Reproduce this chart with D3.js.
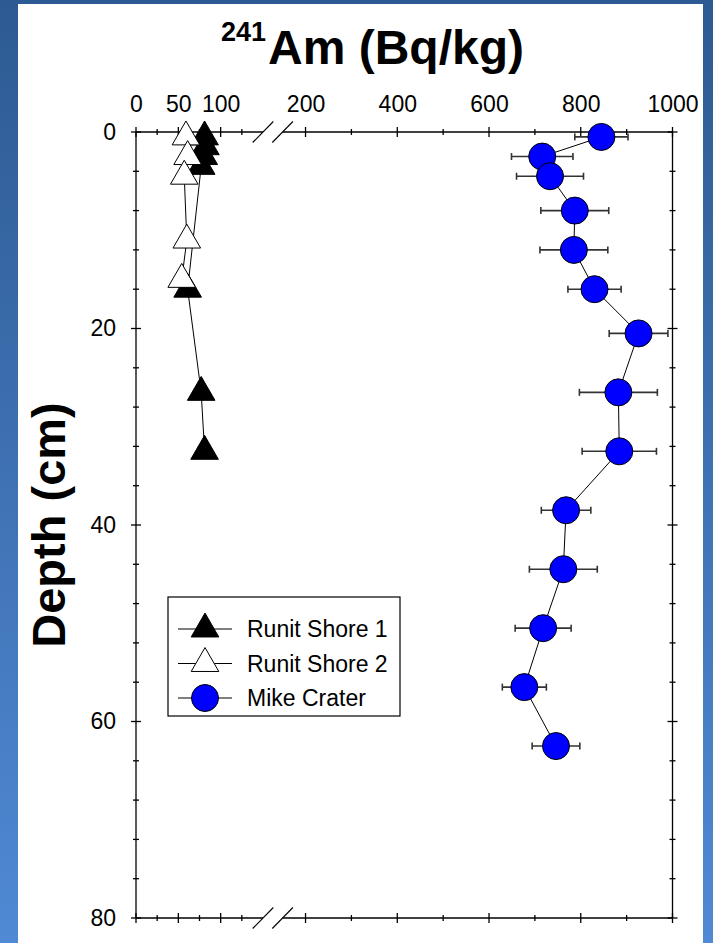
<!DOCTYPE html>
<html>
<head>
<meta charset="utf-8">
<script src="https://cdn.jsdelivr.net/npm/d3@7"></script>
<style>
  body { margin: 0; padding: 0; }
  text { font-family: "Liberation Sans", Arial, sans-serif; fill: #000; }
</style>
</head>
<body>
<div id="chart"></div>
<script>
// Data (depth in cm, 241Am in Bq/kg)
let shore1Depth = [0.5, 1.5, 2.5, 3.5, 16, 26.5, 32.5];
let shore1Am = [81, 82, 80, 77, 61, 77, 81];

let shore2Depth = [0.5, 2.5, 4.5, 11, 15];
let shore2Am = [59, 61, 57, 60, 54];

let mikeDepth = [0.5, 2.5, 4.5, 8, 12, 16, 20.5, 26.5, 32.5, 38.5, 44.5, 50.5, 56.5, 62.5];
let mikeAm = [845, 716, 733, 787, 785, 830, 926, 882, 884, 768, 762, 718, 677, 746];
let mikeErr = [58, 67, 73, 74, 74, 58, 64, 85, 81, 54, 74, 61, 48, 52];

// Tick values (x axis is broken at 150)
let xMajorLow = [0, 50, 100];
let xMinorLow = [25, 75, 125];
let xMajorHigh = [200, 400, 600, 800, 1000];
let xMinorHigh = [300, 500, 700, 900];
let yMajor = [0, 20, 40, 60, 80];
let yMinor = [4, 8, 12, 16, 24, 28, 32, 36, 44, 48, 52, 56, 64, 68, 72, 76];

let legendNames = ["Runit Shore 1", "Runit Shore 2", "Mike Crater"];

let svgWidth = 713;
let svgHeight = 943;

let svg = d3.select("#chart")
    .append("svg")
    .attr("width", svgWidth)
    .attr("height", svgHeight);

// blue slide background with white panel
let grad = svg.append("defs").append("linearGradient")
    .attr("id", "bg")
    .attr("x1", 0).attr("y1", 0).attr("x2", 0).attr("y2", 1);
grad.append("stop").attr("offset", "0%").attr("stop-color", "#2d5a92");
grad.append("stop").attr("offset", "100%").attr("stop-color", "#5089d4");

svg.append("rect")
    .attr("width", svgWidth)
    .attr("height", svgHeight)
    .attr("fill", "url(#bg)");

svg.append("rect")
    .attr("x", 18)
    .attr("y", 4)
    .attr("width", 685)
    .attr("height", svgHeight)
    .attr("fill", "#fff");

// scales
let xLow = d3.scaleLinear().domain([0, 150]).range([136, 263]);
let xHigh = d3.scaleLinear().domain([150, 1000]).range([282.6, 672.5]);
let xPos = v => v < 150 ? xLow(v) : xHigh(v);
let y = d3.scaleLinear().domain([0, 80]).range([132, 918]);

let plotTop = y(0), plotBottom = y(80), plotLeft = xLow(0), plotRight = xHigh(1000);

let frame = svg.append("g")
    .attr("stroke", "#000")
    .attr("stroke-width", 1.3)
    .attr("fill", "none");

// left and right axis lines
frame.append("line").attr("x1", plotLeft).attr("x2", plotLeft).attr("y1", plotTop).attr("y2", plotBottom);
frame.append("line").attr("x1", plotRight).attr("x2", plotRight).attr("y1", plotTop).attr("y2", plotBottom);

// top and bottom axis lines with break marks
[plotTop, plotBottom].forEach(yy => {
    frame.append("line").attr("x1", plotLeft).attr("x2", xLow(150)).attr("y1", yy).attr("y2", yy);
    frame.append("line").attr("x1", xHigh(150)).attr("x2", plotRight).attr("y1", yy).attr("y2", yy);
    [xLow(150), xHigh(150)].forEach(cx => {
        frame.append("line")
            .attr("stroke-width", 1.1)
            .attr("x1", cx - 10.3).attr("y1", yy + 10.5)
            .attr("x2", cx + 10.3).attr("y2", yy - 10.5);
    });
});

// tick marks crossing the axes
let xTicks = []
    .concat(xMajorLow.map(v => ({x: xLow(v), len: 5})))
    .concat(xMinorLow.map(v => ({x: xLow(v), len: 3})))
    .concat(xMajorHigh.map(v => ({x: xHigh(v), len: 5})))
    .concat(xMinorHigh.map(v => ({x: xHigh(v), len: 3})));

[plotTop, plotBottom].forEach(yy => {
    frame.append("g").selectAll("line")
        .data(xTicks)
        .join("line")
        .attr("x1", d => d.x).attr("x2", d => d.x)
        .attr("y1", d => yy - d.len).attr("y2", d => yy + d.len);
});

let yTicks = yMajor.map(v => ({y: y(v), len: 5}))
    .concat(yMinor.map(v => ({y: y(v), len: 3})));

[plotLeft, plotRight].forEach(xx => {
    frame.append("g").selectAll("line")
        .data(yTicks)
        .join("line")
        .attr("y1", d => d.y).attr("y2", d => d.y)
        .attr("x1", d => xx - d.len).attr("x2", d => xx + d.len);
});

// tick labels through d3 axes (tick lines hidden, drawn above)
let labelAxes = [
    {axis: d3.axisTop(xLow).tickValues(xMajorLow), t: `translate(0, ${plotTop})`},
    {axis: d3.axisTop(xHigh).tickValues(xMajorHigh), t: `translate(0, ${plotTop})`},
    {axis: d3.axisLeft(y).tickValues(yMajor), t: `translate(${plotLeft}, 0)`}
];
labelAxes.forEach(a => {
    let g = svg.append("g")
        .attr("transform", a.t)
        .call(a.axis.tickSize(0).tickPadding(20).tickFormat(d3.format("d")));
    g.select(".domain").remove();
    g.selectAll("text")
        .attr("font-family", "Liberation Sans, Arial, sans-serif")
        .attr("font-size", 23)
        .attr("fill", "#000");
});

// title
svg.append("text")
    .attr("x", 266)
    .attr("y", 41)
    .attr("text-anchor", "end")
    .attr("font-weight", "bold")
    .attr("font-size", 27)
    .text("241");
svg.append("text")
    .attr("x", 268)
    .attr("y", 64)
    .attr("font-weight", "bold")
    .attr("font-size", 48)
    .text("Am (Bq/kg)");

// y axis title
svg.append("text")
    .attr("transform", `translate(65, ${y(40)}) rotate(-90)`)
    .attr("text-anchor", "middle")
    .attr("font-weight", "bold")
    .attr("font-size", 47)
    .text("Depth (cm)");

let lineGen = d3.line().x(d => xPos(d.v)).y(d => y(d.d));
let triangle = d3.symbol().type(d3.symbolTriangle).size(330);

let shore1 = shore1Depth.map((d, i) => ({d: d, v: shore1Am[i]}));
let shore2 = shore2Depth.map((d, i) => ({d: d, v: shore2Am[i]}));
let mike = mikeDepth.map((d, i) => ({d: d, v: mikeAm[i], e: mikeErr[i]}));

// Runit Shore 1
svg.append("path")
    .datum(shore1)
    .attr("d", lineGen)
    .attr("fill", "none")
    .attr("stroke", "#000")
    .attr("stroke-width", 1);
svg.append("g").selectAll("path")
    .data(shore1)
    .join("path")
    .attr("transform", d => `translate(${xPos(d.v)}, ${y(d.d)})`)
    .attr("d", triangle)
    .attr("fill", "#000")
    .attr("stroke", "#000");

// Runit Shore 2
svg.append("path")
    .datum(shore2)
    .attr("d", lineGen)
    .attr("fill", "none")
    .attr("stroke", "#000")
    .attr("stroke-width", 1);
svg.append("g").selectAll("path")
    .data(shore2)
    .join("path")
    .attr("transform", d => `translate(${xPos(d.v)}, ${y(d.d)})`)
    .attr("d", triangle)
    .attr("fill", "#fff")
    .attr("stroke", "#000");

// Mike Crater: line, error bars, circles
svg.append("path")
    .datum(mike)
    .attr("d", lineGen)
    .attr("fill", "none")
    .attr("stroke", "#000")
    .attr("stroke-width", 1);

let errGroup = svg.append("g")
    .attr("stroke", "#333")
    .attr("stroke-width", 1.6);
errGroup.selectAll(".bar")
    .data(mike)
    .join("line")
    .attr("class", "bar")
    .attr("x1", d => xPos(d.v - d.e)).attr("x2", d => xPos(d.v + d.e))
    .attr("y1", d => y(d.d)).attr("y2", d => y(d.d));
errGroup.selectAll(".capL")
    .data(mike)
    .join("line")
    .attr("class", "capL")
    .attr("x1", d => xPos(d.v - d.e)).attr("x2", d => xPos(d.v - d.e))
    .attr("y1", d => y(d.d) - 3.5).attr("y2", d => y(d.d) + 3.5);
errGroup.selectAll(".capR")
    .data(mike)
    .join("line")
    .attr("class", "capR")
    .attr("x1", d => xPos(d.v + d.e)).attr("x2", d => xPos(d.v + d.e))
    .attr("y1", d => y(d.d) - 3.5).attr("y2", d => y(d.d) + 3.5);

svg.append("g").selectAll("circle")
    .data(mike)
    .join("circle")
    .attr("cx", d => xPos(d.v))
    .attr("cy", d => y(d.d))
    .attr("r", 13.5)
    .attr("fill", "#0000ff")
    .attr("stroke", "#000")
    .attr("stroke-width", 1);

// legend
let legend = svg.append("g");
legend.append("rect")
    .attr("x", 168)
    .attr("y", 597)
    .attr("width", 232)
    .attr("height", 119)
    .attr("fill", "#fff")
    .attr("stroke", "#000")
    .attr("stroke-width", 1.2);

let rows = legend.selectAll("g")
    .data(legendNames)
    .join("g")
    .attr("transform", (d, i) => `translate(205, ${629 + i * 34.5})`);

rows.append("line")
    .attr("x1", -27).attr("x2", 27)
    .attr("stroke", "#000")
    .attr("stroke-width", 1);

rows.each(function(d, i) {
    let g = d3.select(this);
    if (i < 2) {
        g.append("path")
            .attr("d", triangle)
            .attr("fill", i === 0 ? "#000" : "#fff")
            .attr("stroke", "#000");
    } else {
        g.append("circle")
            .attr("r", 13.5)
            .attr("fill", "#0000ff")
            .attr("stroke", "#000");
    }
});

rows.append("text")
    .attr("x", 42)
    .attr("dy", "0.35em")
    .attr("font-size", 23)
    .text(d => d);
</script>
</body>
</html>
